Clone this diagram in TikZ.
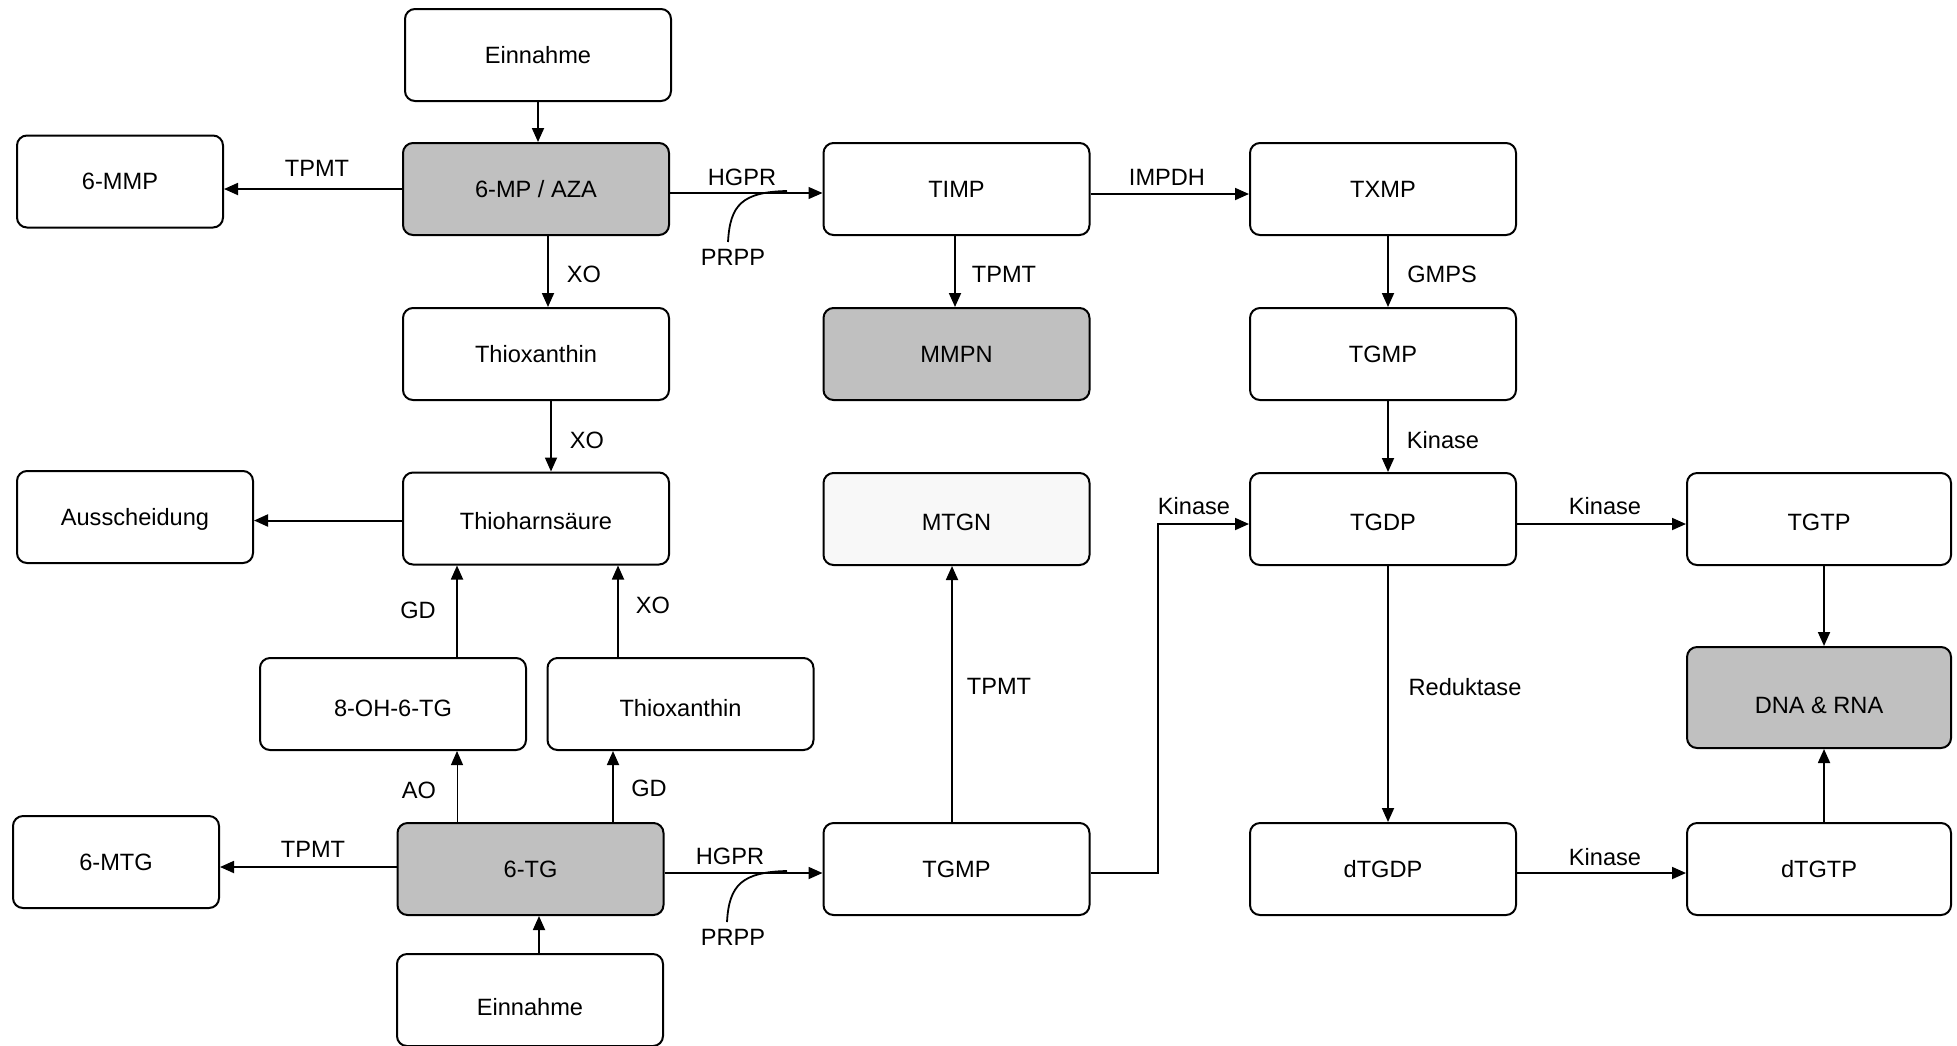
\documentclass[tikz,border=0pt]{standalone}
\usepackage{fontspec}
\setmainfont{Liberation Sans}
\usetikzlibrary{arrows.meta,calc}
\definecolor{boxgray}{RGB}{192,192,192}
\definecolor{lightbox}{RGB}{248,248,248}
\begin{document}
\begin{tikzpicture}[x=0.5pt,y=-0.5pt,
  box/.style={draw=black, line width=1pt, rounded corners=5pt, fill=white,
    minimum width=133pt, minimum height=46pt, inner sep=0pt,
    font=\fontsize{11.8}{14}\selectfont, text height=8.45pt, text depth=0pt},
  graybox/.style={box, fill=boxgray},
  lbl/.style={font=\fontsize{11.8}{14}\selectfont, inner sep=0pt, text height=8.45pt, text depth=0pt},
  arr/.style={line width=0.9pt, -{Triangle[length=7pt,width=6pt]}},
  ln/.style={line width=0.9pt}]
\useasboundingbox (0,0) rectangle (1957,1045);

% nodes
\node[box] (ein1) at (538,55) {Einnahme};
\node[graybox] (mp) at (536,189) {6-MP / AZA};
\node[box, minimum width=103pt] (mmp) at (120,181.5) {6-MMP};
\node[box] (timp) at (956.5,189) {TIMP};
\node[box] (txmp) at (1383,189) {TXMP};
\node[box] (thx1) at (536,354) {Thioxanthin};
\node[graybox] (mmpn) at (956.5,354) {MMPN};
\node[box] (tgmp1) at (1383,354) {TGMP};
\node[box, minimum width=118pt] (aus) at (135,517) {Ausscheidung};
\node[box, text height=11.45pt] (thu) at (536,518.5) {Thioharnsäure};
\node[box, fill=lightbox, text height=11.45pt] (mtgn) at (956.5,519) {MTGN};
\node[box, text height=11.45pt] (tgdp) at (1383,519) {TGDP};
\node[box, minimum width=132pt, text height=11.45pt] (tgtp) at (1819,519) {TGTP};
\node[box, text height=12.45pt] (oh) at (393,704) {8-OH-6-TG};
\node[box, text height=12.45pt] (thx2) at (680.5,704) {Thioxanthin};
\node[graybox, minimum width=132pt, minimum height=50.5pt, text height=15.9pt] (dna) at (1819,697.5) {DNA \& RNA};
\node[box, minimum width=103pt] (mtg) at (116,862) {6-MTG};
\node[graybox] (tg) at (530.5,869) {6-TG};
\node[box] (tgmp2) at (956.5,869) {TGMP};
\node[box] (dtgdp) at (1383,869) {dTGDP};
\node[box, minimum width=132pt] (dtgtp) at (1819,869) {dTGTP};
\node[box, text height=15.45pt] (ein2) at (530,1000) {Einnahme};

% labels
\node[lbl] (l1) at (317,168) {TPMT};
\node[lbl] (l2) at (742,177) {HGPR};
\node[lbl] (prpp1) at (733,257) {PRPP};
\node[lbl] (l3) at (584,274) {XO};
\node[lbl] (l4) at (1004,274) {TPMT};
\node[lbl] (l5) at (1167,177) {IMPDH};
\node[lbl] (l6) at (1442,274) {GMPS};
\node[lbl] (l7) at (587,440) {XO};
\node[lbl] (l8) at (1443,440) {Kinase};
\node[lbl] (l9) at (1194,506) {Kinase};
\node[lbl] (l10) at (1605,506) {Kinase};
\node[lbl] (l11) at (418,610) {GD};
\node[lbl] (l12) at (653,605) {XO};
\node[lbl] (l13) at (999,686) {TPMT};
\node[lbl] (l14) at (1465,687) {Reduktase};
\node[lbl] (l15) at (419,790) {AO};
\node[lbl] (l16) at (649,788) {GD};
\node[lbl] (l17) at (313,849) {TPMT};
\node[lbl] (l18) at (730,856) {HGPR};
\node[lbl] (l19) at (1605,857) {Kinase};
\node[lbl] (prpp2) at (733,937) {PRPP};

% coordinates
\coordinate (h1s) at ($(mp.east)+(0,4)$);
\coordinate (x1) at ($(mp.south)+(12,0)$);
\coordinate (x2) at ($(thx1.south)+(15,0)$);
\coordinate (g1) at ($(oh.north)+(64,0)$);
\coordinate (x3) at ($(thx2.north)+(-62.5,0)$);
\coordinate (a1) at ($(tg.north)+(-73.5,0)$);
\coordinate (g2) at ($(tg.north)+(82.5,0)$);
\coordinate (t1) at ($(tg.west)+(0,-2)$);
\coordinate (h2s) at ($(tg.east)+(0,4)$);
\coordinate (in2) at ($(ein2.north)+(9,0)$);
\coordinate (im) at ($(timp.east)+(0,5)$);
\coordinate (tp1) at ($(timp.south)+(-1.5,0)$);
\coordinate (tp2) at ($(tgmp2.north)+(-4.5,0)$);
\coordinate (gm) at ($(txmp.south)+(5,0)$);
\coordinate (k1) at ($(tgmp1.south)+(5,0)$);
\coordinate (e1) at ($(tgmp2.east)+(0,4)$);
\coordinate (e2) at ($(tgdp.west)+(0,5)$);
\coordinate (kx) at (1158,524);
\coordinate (k2) at ($(tgdp.east)+(0,5)$);
\coordinate (rd) at ($(tgdp.south)+(5,0)$);
\coordinate (k3) at ($(dtgdp.east)+(0,4)$);
\coordinate (d1) at ($(tgtp.south)+(5,0)$);
\coordinate (d2) at ($(dtgtp.north)+(5,0)$);
\coordinate (c1s) at (728,242);
\coordinate (c1e) at (787,191);
\coordinate (c2s) at (727,922);
\coordinate (c2e) at (787,871);

% connectors
\draw[arr] (ein1.south) -- (ein1.south |- mp.north);
\draw[arr] (mp.west) -- (mp.west -| mmp.east);
\draw[arr, line width=0.6pt] (h1s) -- (h1s -| timp.west);
\draw[ln] (c1s) .. controls (730,205) and (742,192) .. (c1e);
\draw[arr] (x1) -- (x1 |- thx1.north);
\draw[arr] (x2) -- (x2 |- thu.north);
\draw[arr, line width=1pt] ($(thu.west)+(0,2)$) -- ($(thu.west -| aus.east)+(0,2)$);
\draw[arr] (g1) -- (g1 |- thu.south);
\draw[arr] (x3) -- (x3 |- thu.south);
\draw[arr, line width=0.5pt] (a1) -- (a1 |- oh.south);
\draw[arr] (g2) -- (g2 |- thx2.south);
\draw[arr] (t1) -- (t1 -| mtg.east);
\draw[arr] (h2s) -- (h2s -| tgmp2.west);
\draw[ln] (c2s) .. controls (729,885) and (742,872) .. (c2e);
\draw[arr] (in2) -- (in2 |- tg.south);
\draw[arr] (im) -- (im -| txmp.west);
\draw[arr] (tp1) -- (tp1 |- mmpn.north);
\draw[arr] (tp2) -- (tp2 |- mtgn.south);
\draw[arr] (gm) -- (gm |- tgmp1.north);
\draw[arr] (k1) -- (k1 |- tgdp.north);
\draw[arr] (e1) -| (kx) -- (e2);
\draw[arr] (k2) -- (k2 -| tgtp.west);
\draw[arr] (rd) -- (rd |- dtgdp.north);
\draw[arr] (k3) -- (k3 -| dtgtp.west);
\draw[arr] (d1) -- (d1 |- dna.north);
\draw[arr] (d2) -- (d2 |- dna.south);
\end{tikzpicture}
\end{document}
